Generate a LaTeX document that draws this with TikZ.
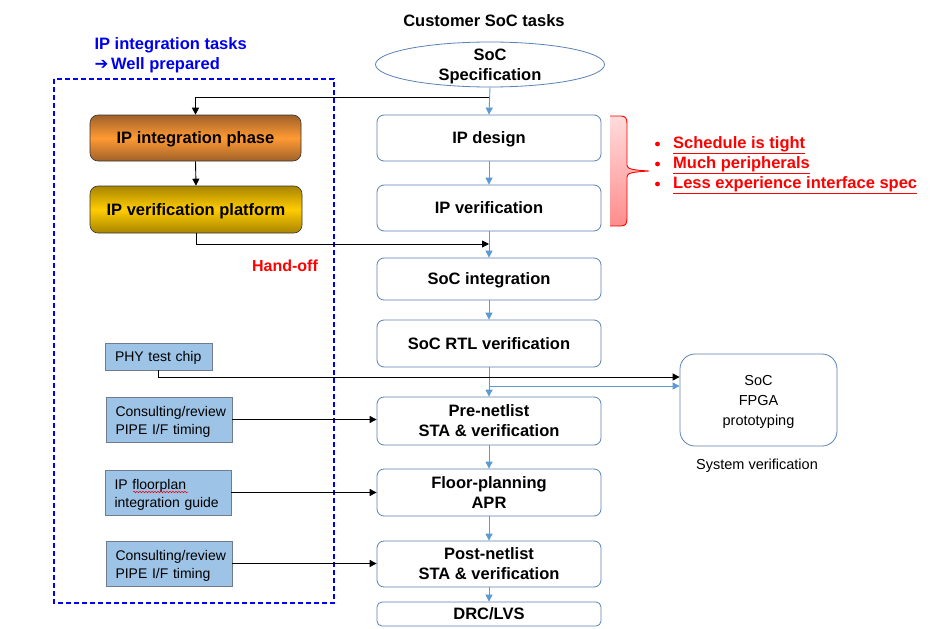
\documentclass[tikz,border=0pt]{standalone}
\usepackage{fontspec}
\setmainfont{Liberation Sans}
\newfontfamily\dejavu{DejaVu Sans}
\usetikzlibrary{arrows.meta,shapes.geometric,decorations.pathmorphing}
\definecolor{boxborder}{HTML}{5A82B4}
\definecolor{arrblue}{HTML}{5B9BD5}
\definecolor{leftfill}{HTML}{9DC3E6}
\definecolor{leftborder}{HTML}{6E7C8C}
\definecolor{ttblue}{HTML}{0000F0}
\definecolor{ttred}{HTML}{FF0000}
\definecolor{orgedge}{HTML}{A0612A}
\definecolor{orgmid}{HTML}{FF9A33}
\definecolor{yeledge}{HTML}{A88500}
\definecolor{yelmid}{HTML}{FFCC00}
\begin{document}
\begin{tikzpicture}[x=1pt,y=-1pt,
  bfnt/.style={font=\fontsize{16.5}{20}\selectfont\bfseries},
  rfnt/.style={font=\fontsize{14}{17.5}\selectfont},
  mainbox/.style={draw=boxborder,line width=0.8pt,rounded corners=7pt,fill=white,
    minimum width=224pt,inner sep=0pt,align=center,bfnt,text depth=0pt},
  leftbox/.style={draw=leftborder,line width=0.8pt,fill=leftfill,inner sep=0pt,
    minimum width=126pt,minimum height=45pt},
  lefttext/.style={inner sep=0pt,align=left,rfnt,text width=107pt},
  phase/.style={draw=black!80,line width=0.6pt,rounded corners=8pt,minimum width=211pt,
    minimum height=46pt,inner sep=0pt,bfnt,text depth=0pt},
  barr/.style={draw=arrblue,line width=0.9pt,-{Triangle[length=7pt,width=7pt]}},
  karr/.style={draw=black,line width=0.9pt,-{Triangle[length=7pt,width=7pt]}}
]
\useasboundingbox (0,0) rectangle (938,629);
\fill[white] (0,0) rectangle (938,629);

% titles
\node[bfnt] (title) at (484,21) {Customer SoC tasks};
\node[bfnt,text=ttblue,anchor=west,align=left] (iptitle) at (91,55)
  {IP integration tasks\\{\dejavu\bfseries ➔}\,Well prepared};
\draw[ttblue,line width=1.5pt,dash pattern=on 5pt off 3pt] (54,79) rectangle (334,603);

% ellipse
\node[ellipse,draw=boxborder,line width=0.8pt,minimum width=229pt,minimum height=45pt,
  inner sep=0pt,align=center,bfnt,text depth=-1.5pt] (spec) at (490,64.5) {SoC\\Specification};

% main column
\node[mainbox,minimum height=46pt] (ipd) at (489,138) {IP design};
\node[mainbox,minimum height=46pt] (ipv) at (489,208) {IP verification};
\node[mainbox,minimum height=42pt] (soci) at (489,279) {SoC integration};
\node[mainbox,minimum height=47pt] (rtl) at (489,343.5) {SoC RTL verification};
\node[mainbox,minimum height=48pt,text depth=-1.5pt] (pre) at (489,421) {Pre-netlist\\STA \& verification};
\node[mainbox,minimum height=47pt,text depth=-1.5pt] (flr) at (489,492.5) {Floor-planning\\APR};
\node[mainbox,minimum height=46pt,text depth=-1.5pt] (post) at (489,564) {Post-netlist\\STA \& verification};
\node[mainbox,minimum height=24pt,rounded corners=5pt] (drc) at (489,614) {DRC/LVS};

\draw[barr] (spec.south) -- (ipd.north);
\draw[barr] (ipd.south) -- (ipv.north);
\draw[barr] (ipv.south) -- (soci.north);
\draw[barr] (soci.south) -- (rtl.north);
\draw[barr] (rtl.south) -- (pre.north);
\draw[barr] (pre.south) -- (flr.north);
\draw[barr] (flr.south) -- (post.north);
\draw[barr] (post.south) -- (drc.north);

% left phase boxes
\node[phase,top color=orgedge,bottom color=orgedge,middle color=orgmid]
  (ipi) at (195.5,138) {IP integration phase};
\node[phase,minimum width=212pt,minimum height=47pt,top color=yeledge,
  bottom color=yeledge,middle color=yelmid]
  (ipp) at (196,209.5) {IP verification platform};

\coordinate (j1) at (489,97);
\coordinate (h1) at (488,244);
\draw[karr] (j1) -| (ipi.north);
\draw[karr] (ipi.south) -- (ipp.north);
\draw[karr,shorten >=-1pt] (ipp.south) |- (h1);
\node[font=\fontsize{16}{18}\selectfont\bfseries,text=ttred] (hand) at (285,266) {Hand-off};

% brace
\shade[top color=red!14,bottom color=red!45]
  (610,116) -- (621,116) .. controls (626,116) and (627,119) .. (627,124)
  -- (627,165) .. controls (627,169) and (632,170) .. (649,171)
  .. controls (632,172) and (627,173) .. (627,177)
  -- (627,218) .. controls (627,223) and (626,226) .. (621,226) -- (610,226) -- cycle;
\draw[ttred,line width=0.9pt]
  (610,116) -- (621,116) .. controls (626,116) and (627,119) .. (627,124)
  -- (627,165) .. controls (627,169) and (632,170) .. (649,171)
  .. controls (632,172) and (627,173) .. (627,177)
  -- (627,218) .. controls (627,223) and (626,226) .. (621,226) -- (610,226);

\foreach \yy/\btx [count=\i] in {144/Schedule is tight,164/Much peripherals,184/Less experience interface spec}{
  \fill[ttred] (657.5,\yy) circle (2.4pt);
  \node[text=ttred,bfnt,anchor=west,inner sep=0pt] (btxt\i) at (673,\yy+1) {\underline{\btx}};
}

% left blue boxes
\node[leftbox,minimum width=107pt,minimum height=27pt] (phy) at (158.5,356.5) {};
\node[lefttext,text width=87pt] (phyt) at ([yshift=-1.5pt]phy.center) {PHY test chip};
\node[leftbox] (cons1) at (169,419.5) {};
\node[lefttext] (cons1t) at ([yshift=-2.5pt]cons1.center) {Consulting/review\\PIPE I/F timing};
\node[leftbox] (guide) at (168,492.5) {};
\node[lefttext] (guidet) at ([yshift=-2.5pt]guide.center) {IP floorplan\\integration guide};
\node[leftbox] (cons2) at (169,563.5) {};
\node[lefttext] (cons2t) at ([yshift=-2.5pt]cons2.center) {Consulting/review\\PIPE I/F timing};
\draw[ttred,line width=0.5pt,decorate,decoration={snake,amplitude=0.8pt,segment length=3pt}]
  (133,492) -- (188,492);

% FPGA
\node[draw=boxborder,line width=0.8pt,rounded corners=15pt,minimum width=157pt,
  minimum height=92pt,inner sep=0pt,align=center,font=\fontsize{14.5}{20}\selectfont,text depth=-1pt]
  (fpga) at (758.5,400) {SoC\\FPGA\\prototyping};
\node[font=\fontsize{14.5}{17}\selectfont] (sysv) at (757,466) {System verification};

\draw[karr] (phy.south) |- (fpga.west |- 0,377);
\coordinate (b1) at (489,386);
\draw[barr] (b1) -- (fpga.west |- b1);

\draw[karr] (cons1.east) -- (pre.west |- cons1.east);
\draw[karr] (guide.east) -- (flr.west |- guide.east);
\draw[karr] (cons2.east) -- (post.west |- cons2.east);
\end{tikzpicture}
\end{document}
